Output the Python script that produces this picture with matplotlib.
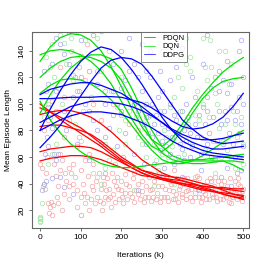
import matplotlib
matplotlib.use("Agg")
import matplotlib.pyplot as plt

plt.rcParams['font.family'] = ['Liberation Sans', 'DejaVu Sans']

# smoothed curves, sampled every 25k iterations
iters = [0, 25, 50, 75, 100, 125, 150, 175, 200, 225, 250,
         275, 300, 325, 350, 375, 400, 425, 450, 475, 500]

pdqn_curves = [
    [100, 94, 88, 83, 78, 73, 68, 62, 57, 52, 48, 45, 43, 41, 40, 39, 38, 37, 37, 36, 36],
    [92, 94, 95, 95, 93, 90, 85, 79, 72, 65, 58, 53, 48, 45, 42, 40, 38, 37, 36, 35, 34],
    [83, 84, 84, 82, 80, 77, 72, 66, 60, 55, 50, 47, 44, 42, 40, 38, 36, 34, 33, 32, 31],
    [64, 66, 67, 68, 68, 67, 64, 60, 56, 52, 48, 45, 43, 41, 39, 37, 35, 34, 32, 30, 29],
    [57, 59, 60, 61, 61, 60, 58, 55, 52, 49, 46, 45, 44, 43, 42, 40, 37, 35, 32, 30, 28],
    [97, 94, 90, 86, 82, 76, 70, 64, 58, 54, 50, 48, 46, 45, 44, 42, 40, 38, 35, 32, 30],
]
dqn_curves = [
    [132, 143, 150, 153, 152, 148, 140, 128, 113, 97, 83, 73, 68, 74, 85, 97, 107, 116, 124, 130, 135],
    [137, 140, 141, 140, 137, 132, 125, 115, 102, 89, 77, 68, 64, 70, 81, 93, 104, 112, 117, 119, 120],
    [108, 114, 118, 119, 118, 115, 110, 103, 94, 84, 74, 65, 58, 55, 55, 57, 61, 66, 71, 76, 80],
    [102, 88, 78, 70, 64, 59, 55, 53, 52, 52, 53, 54, 55, 56, 57, 58, 58, 59, 60, 61, 62],
    [93, 107, 118, 127, 133, 137, 137, 134, 126, 112, 96, 80, 68, 61, 58, 57, 57, 57, 57, 54, 50],
    [120, 127, 132, 135, 136, 135, 132, 127, 118, 104, 88, 73, 63, 58, 56, 55, 55, 56, 57, 57, 56],
]
ddpg_curves = [
    [80, 96, 110, 122, 132, 139, 143, 141, 135, 126, 115, 103, 90, 80, 72, 68, 65, 63, 62, 61, 60],
    [67, 75, 84, 95, 106, 117, 127, 133, 135, 134, 130, 121, 110, 99, 88, 81, 75, 72, 70, 71, 72],
    [107, 111, 113, 115, 116, 116, 114, 111, 108, 103, 98, 92, 86, 81, 77, 74, 73, 73, 74, 76, 78],
    [104, 104, 104.5, 105, 105, 105, 105.5, 105.5, 105, 103, 101, 97, 92, 87, 83, 81, 82, 85, 90, 98, 108],
    [86, 90, 94, 98, 100, 102, 102, 101, 100, 98, 95, 91, 86, 80, 75, 71, 68, 66, 66, 67, 68],
    [80, 84, 88, 91, 93, 94, 94, 93, 92, 89, 86, 82, 77, 72, 68, 65, 62, 61, 60, 59, 58],
]

# raw episode points
pdqn_x = [0, 5, 8, 12, 15, 18, 20, 22, 25, 28, 30, 32, 35, 40, 42, 45, 48, 50, 55, 60,
          62, 65, 70, 72, 75, 80, 85, 90, 92, 95, 100, 105, 108, 110, 115, 118, 120, 125,
          128, 130, 135, 138, 140, 145, 148, 150, 152, 155, 158, 160, 165, 168, 170, 175,
          178, 180, 185, 188, 190, 195, 198, 200, 205, 208, 210, 215, 220, 225, 228, 232,
          235, 240, 245, 248, 252, 255, 260, 265, 268, 272, 275, 280, 285, 288, 292, 296,
          300, 305, 310, 315, 318, 322, 326, 330, 335, 340, 345, 350, 355, 360, 365, 370,
          375, 380, 385, 390, 395, 400, 405, 410, 415, 420, 425, 430, 435, 440, 445, 450,
          455, 460, 465, 470, 475, 480, 485, 490, 495, 500, 498, 488, 470,
          75, 80, 90, 95, 100, 110, 50, 60, 115, 130, 70, 40, 30, 20, 10, 140, 160, 180,
          200, 220, 240, 150,
          155, 162, 172, 182, 192, 202, 212, 222, 232, 242, 250, 258, 262, 270, 278, 282,
          290, 298, 302, 308, 312, 320, 328, 332, 338, 342, 348, 352, 358, 362, 368, 372,
          378, 382, 388, 392, 398, 402, 408, 412, 418, 422, 428, 432, 438, 442, 448, 452,
          458, 462, 468, 472, 478, 482, 492, 496, 500, 486, 120, 130, 110, 100, 90, 80,
          70, 60, 55, 45]
pdqn_y = [55, 52, 38, 36, 48, 60, 25, 18, 22, 26, 16, 24, 55, 46, 30, 25, 50, 62, 58, 75,
          48, 42, 38, 52, 48, 55, 45, 35, 68, 75, 50, 40, 33, 58, 30, 46, 62, 28,
          38, 55, 25, 42, 30, 48, 27, 36, 20, 25, 40, 30, 44, 28, 36, 22,
          48, 32, 26, 38, 45, 28, 35, 42, 25, 33, 47, 28, 38, 30, 44, 26,
          35, 40, 28, 50, 34, 26, 38, 30, 45, 27, 36, 42, 28, 33, 48, 26,
          38, 30, 44, 27, 35, 40, 28, 50, 32, 26, 38, 30, 44, 28, 35, 40,
          27, 33, 46, 30, 26, 38, 32, 42, 28, 36, 30, 45, 27, 34, 40, 28,
          32, 38, 26, 35, 30, 42, 28, 33, 30, 36, 27, 40, 25,
          140, 122, 110, 128, 136, 118, 128, 105, 145, 100, 88, 95, 102, 88, 80, 125, 110, 100,
          92, 85, 80, 88,
          45, 35, 30, 42, 36, 30, 40, 33, 48, 32, 42, 30, 48, 35, 30, 45,
          38, 30, 46, 36, 30, 42, 34, 28, 44, 36, 32, 40, 34, 44, 30, 36,
          42, 30, 36, 44, 30, 34, 28, 36, 44, 32, 38, 30, 42, 28, 36, 42,
          30, 34, 44, 30, 36, 32, 38, 34, 30, 44, 20, 35, 25, 30, 22, 40,
          28, 32, 20, 38]

dqn_x = [0, 0, 0, 0, 0, 5, 10, 20, 30, 40, 50, 60, 15, 25, 35, 45, 55, 70, 85, 100,
         120, 130, 140, 150, 160, 170, 180, 195, 210, 220, 235, 250, 260, 270, 285, 300,
         310, 320, 330, 340, 350, 360, 370, 380, 390, 400, 410, 420, 430, 440, 450, 460,
         470, 480, 490, 500, 430, 380, 330, 280, 230, 480, 455, 405, 345, 300, 260, 200,
         170, 140, 90, 110, 75, 418, 369,
         240, 255, 265, 280, 295, 305, 315, 325, 340, 355, 365, 375, 385, 395, 405, 415,
         425, 435, 445, 455, 465, 475, 485, 495, 500, 210, 190, 175, 150, 125, 105, 80,
         65, 30, 20, 10, 160, 185, 345, 290, 470, 440, 400, 360]
dqn_y = [11, 12, 13, 14, 15, 25, 40, 55, 62, 70, 152, 146, 135, 128, 120, 112, 100, 92, 85, 72,
         60, 48, 45, 40, 52, 58, 65, 80, 88, 95, 90, 70, 60, 48, 58, 62,
         75, 98, 105, 120, 112, 130, 125, 92, 88, 100, 118, 128, 108, 82, 72, 65,
         58, 52, 60, 70, 48, 45, 40, 38, 35, 85, 140, 128, 135, 140, 100, 120,
         140, 150, 155, 148, 150, 148, 135,
         75, 82, 90, 70, 95, 80, 60, 68, 78, 62, 85, 70, 110, 75, 65, 90,
         72, 100, 60, 85, 115, 95, 75, 90, 55, 70, 98, 110, 125, 105, 95, 118,
         130, 145, 100, 90, 70, 55, 95, 50, 130, 140, 150, 150]

ddpg_x = [10, 15, 20, 25, 30, 35, 40, 45, 20, 10, 15, 30, 50, 60, 100, 80, 5, 12, 18,
          50, 60, 70, 85, 95, 110, 120, 130, 140, 150, 160, 170, 180, 190, 200, 210, 220,
          230, 240, 250, 260, 270, 280, 290, 300, 310, 320, 330, 340, 350, 360, 370, 380,
          390, 400, 410, 420, 430, 440, 450, 460, 470, 480, 490, 500, 490, 460, 400, 350,
          300, 250, 200, 150, 100, 280, 350, 420, 470, 390, 300, 240, 450, 480, 495, 490,
          500, 440, 360, 320, 260, 180, 130, 70, 40, 495, 410, 330, 270, 230, 210, 190,
          230, 260, 300, 330, 370, 410, 430, 460, 270, 220,
          255, 265, 275, 285, 295, 305, 315, 325, 335, 345, 355, 365, 375, 385, 395, 405,
          415, 425, 435, 445, 455, 465, 475, 485, 495, 500, 470, 440, 410, 380, 350, 320,
          290, 260, 240, 220, 200, 180, 160, 140, 120, 100, 80, 60, 40, 30, 20, 355,
          395, 445, 485, 305, 255, 205, 160, 120, 90, 65, 460, 420, 375, 335, 295, 275]
ddpg_y = [125, 110, 98, 90, 82, 62, 58, 62, 68, 40, 42, 44, 45, 37, 16, 32, 35, 62, 75,
          145, 138, 130, 120, 110, 100, 95, 88, 80, 70, 75, 82, 92, 100, 112, 118, 125,
          130, 120, 110, 100, 92, 85, 78, 72, 68, 62, 55, 60, 66, 72, 78, 85,
          92, 98, 105, 112, 120, 125, 118, 108, 98, 88, 78, 68, 140, 132, 130, 142,
          110, 145, 140, 155, 148, 55, 45, 42, 38, 35, 45, 35, 70, 60, 50, 105,
          120, 95, 100, 118, 125, 130, 152, 154, 150, 148, 152, 155, 140, 100, 78, 68,
          62, 70, 85, 92, 60, 70, 58, 52, 120, 150,
          85, 78, 100, 92, 65, 95, 82, 75, 88, 70, 80, 90, 68, 75, 62, 85,
          78, 90, 72, 85, 95, 78, 70, 95, 85, 100, 115, 110, 95, 105, 95, 100,
          105, 90, 95, 105, 95, 110, 100, 115, 125, 120, 105, 95, 110, 130, 115, 58,
          50, 45, 48, 52, 55, 60, 48, 58, 70, 80, 88, 60, 120, 128, 125, 75]

fig = plt.figure(figsize=(2.66, 2.68), dpi=100)
ax = fig.add_axes([0.120, 0.149, 0.816, 0.732])

pt = dict(marker='o', linestyle='none', markerfacecolor='none', markersize=3.3, markeredgewidth=0.5)
ax.plot(pdqn_x, pdqn_y, markeredgecolor='#f2a8a8', **pt)
ax.plot(dqn_x, dqn_y, markeredgecolor='#a8e4a8', **pt)
ax.plot(ddpg_x, ddpg_y, markeredgecolor='#aaaaf2', **pt)

for i, c in enumerate(pdqn_curves):
    ax.plot(iters, c, color='#ff0000', lw=0.9, label='PDQN' if i == 0 else None)
for i, c in enumerate(dqn_curves):
    ax.plot(iters, c, color='#00e000', lw=0.9, label='DQN' if i == 0 else None)
for i, c in enumerate(ddpg_curves):
    ax.plot(iters, c, color='#0000ff', lw=0.9, label='DDPG' if i == 0 else None)

ax.set_xlim(-20, 514)
ax.set_ylim(6.4, 154.3)
ax.set_xticks([0, 100, 200, 300, 400, 500])
ax.set_yticks([20, 40, 60, 80, 100, 120, 140])
ax.tick_params(labelsize=6, length=2.5, width=0.6, color='#555555', pad=2)
for lab in ax.get_yticklabels():
    lab.set_rotation(90)
    lab.set_va('center')
for s in ax.spines.values():
    s.set_color('#666666')
    s.set_linewidth(0.8)

ax.set_xlabel('Iterations (k)', fontsize=6, labelpad=8)
ax.set_ylabel('Mean Episode Length', fontsize=6, labelpad=5)

leg = ax.legend(loc='upper left', bbox_to_anchor=(0.502, 1.0), borderaxespad=0,
                fontsize=5.5, frameon=True, fancybox=False, handlelength=1.5,
                labelspacing=0.15, borderpad=0.35, handletextpad=1.0)
leg.get_frame().set_edgecolor('#555555')
leg.get_frame().set_linewidth(0.6)
for ln in leg.get_lines():
    ln.set_linewidth(0.5)

fig.savefig('out.png', dpi=100)
